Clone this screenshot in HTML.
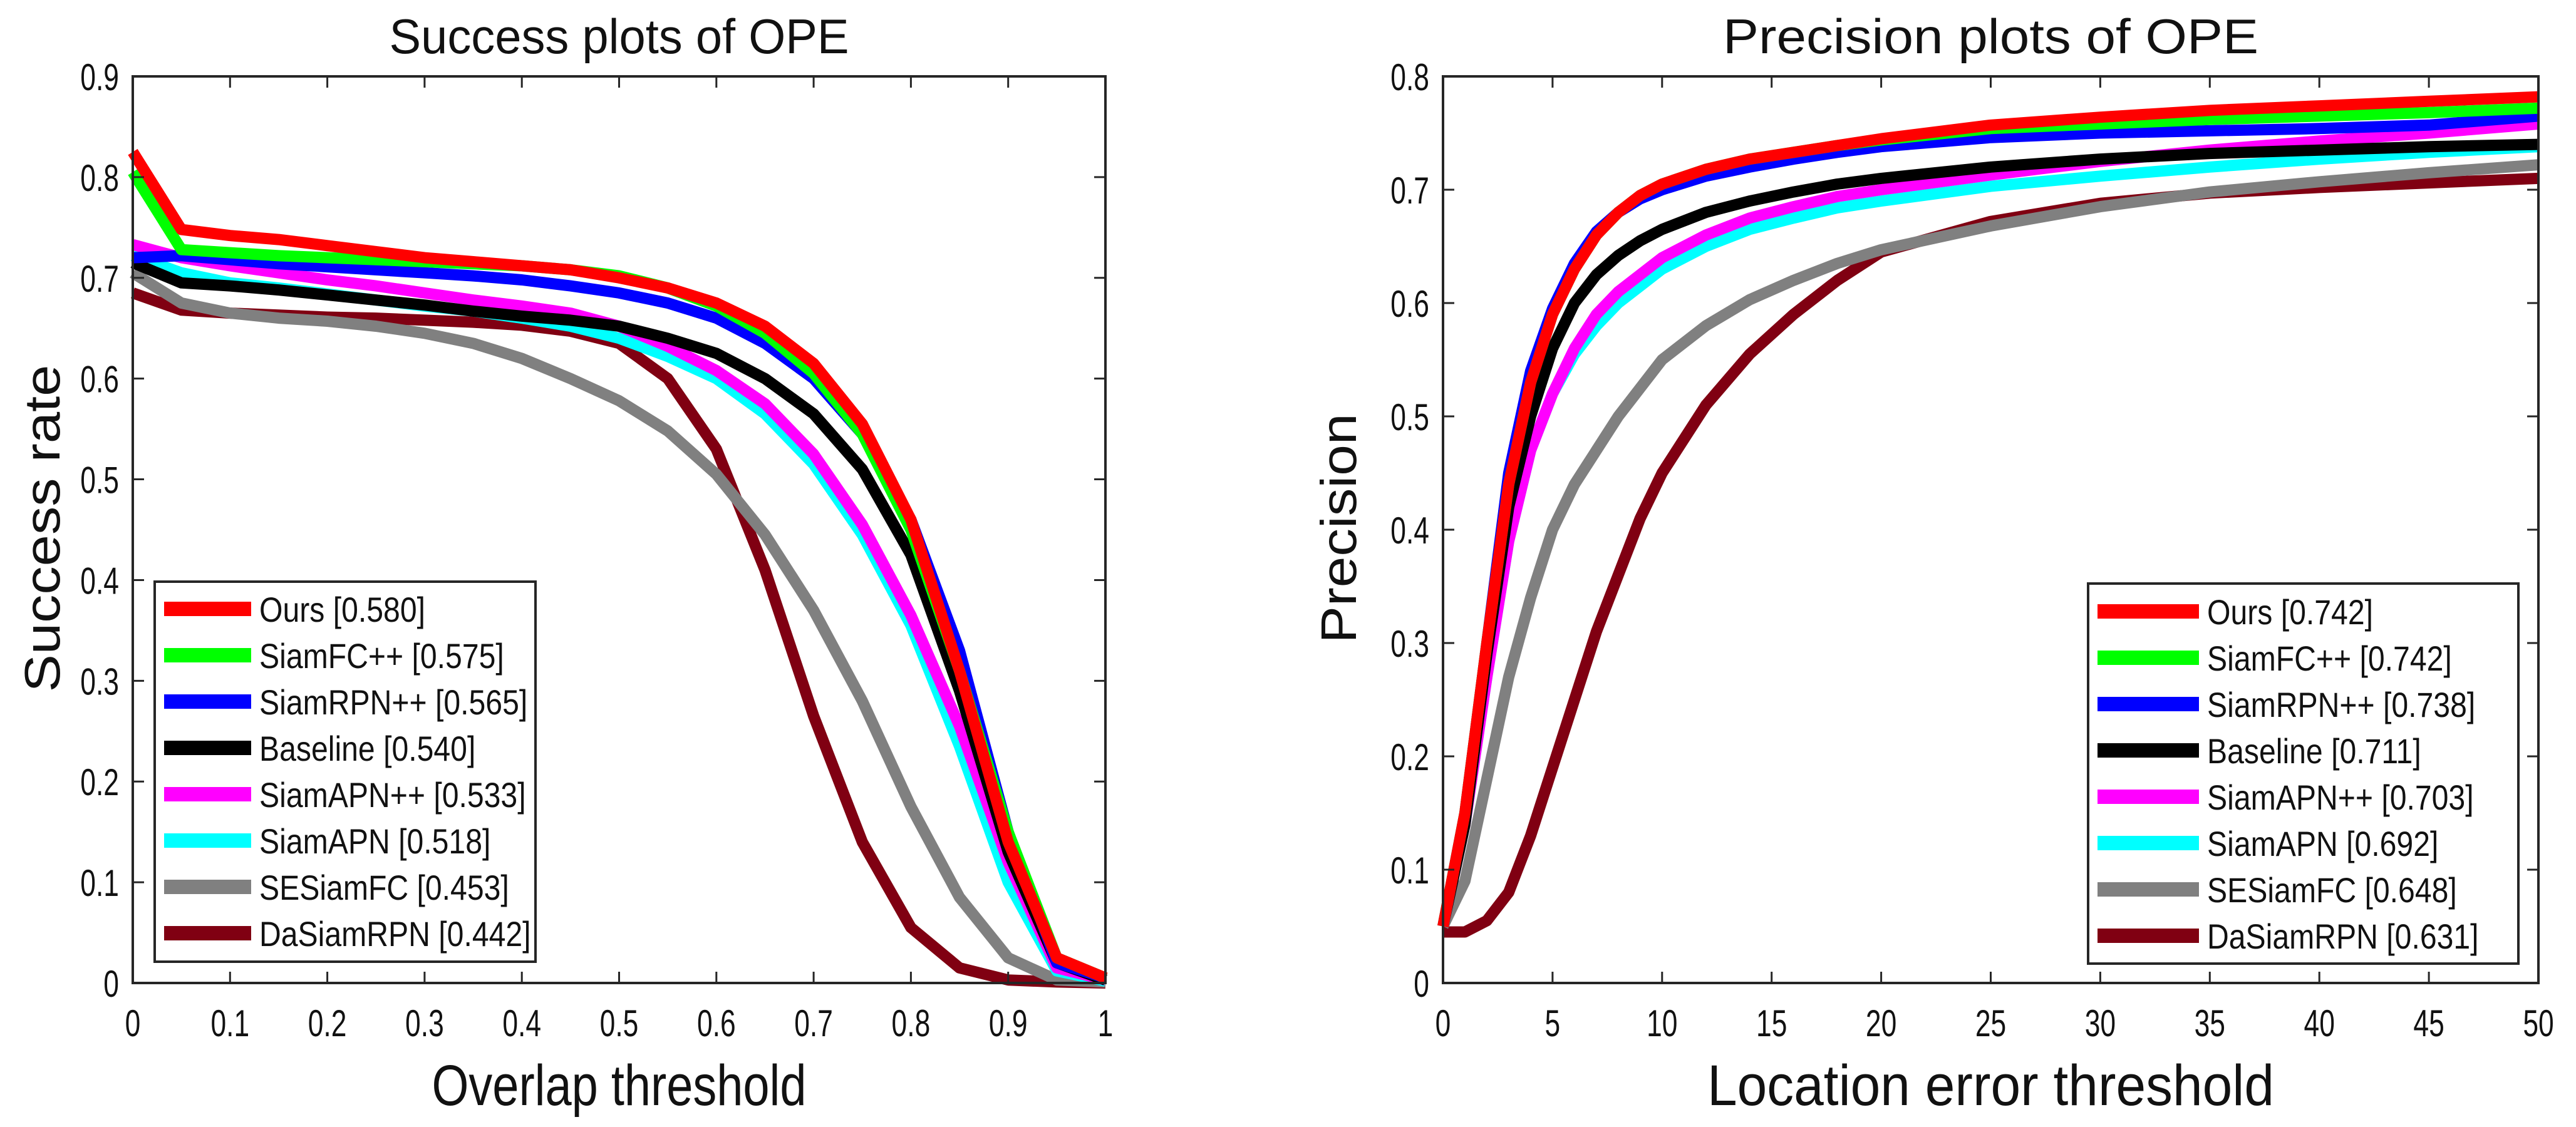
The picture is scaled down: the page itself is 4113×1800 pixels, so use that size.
<!DOCTYPE html>
<html><head><meta charset="utf-8"><style>
html,body{margin:0;padding:0;background:#fff;}
svg{display:block;font-family:"Liberation Sans",Arial,sans-serif;}
</style></head><body>
<svg id="fig" width="4113" height="1800" viewBox="0 0 4113 1800" xmlns="http://www.w3.org/2000/svg"></svg>
<script>
const seriesNames = ["Ours","SiamFC++","SiamRPN++","Baseline","SiamAPN++","SiamAPN","SESiamFC","DaSiamRPN"];
const seriesColors = ["#ff0000","#00ff00","#0000ff","#000000","#ff00ff","#00ffff","#808080","#800012"];
const successScores = ["0.580","0.575","0.565","0.540","0.533","0.518","0.453","0.442"];
const precisionScores = ["0.742","0.742","0.738","0.711","0.703","0.692","0.648","0.631"];

const successX = [0,0.05,0.1,0.15,0.2,0.25,0.3,0.35,0.4,0.45,0.5,0.55,0.6,0.65,0.7,0.75,0.8,0.85,0.9,0.95,1];
const successOurs = [0.825,0.748,0.742,0.738,0.732,0.726,0.72,0.716,0.712,0.708,0.700,0.690,0.675,0.652,0.615,0.555,0.46,0.31,0.14,0.025,0.005];
const successSiamFCpp = [0.805,0.728,0.725,0.722,0.72,0.718,0.716,0.714,0.712,0.708,0.702,0.69,0.672,0.645,0.605,0.545,0.45,0.31,0.15,0.025,0.005];
const successSiamRPNpp = [0.72,0.722,0.718,0.714,0.711,0.708,0.705,0.702,0.698,0.692,0.685,0.675,0.66,0.635,0.6,0.545,0.46,0.33,0.15,0.02,0.005];
const successBaseline = [0.715,0.695,0.692,0.688,0.683,0.678,0.673,0.667,0.662,0.658,0.652,0.64,0.625,0.6,0.565,0.51,0.425,0.29,0.13,0.02,0.003];
const successSiamAPNpp = [0.733,0.72,0.712,0.705,0.698,0.692,0.685,0.678,0.672,0.665,0.652,0.632,0.608,0.575,0.525,0.455,0.365,0.255,0.12,0.015,0.003];
const successSiamAPN = [0.722,0.705,0.695,0.69,0.684,0.678,0.672,0.667,0.66,0.652,0.64,0.622,0.6,0.565,0.515,0.445,0.355,0.235,0.1,0.012,0.002];
const successSESiamFC = [0.705,0.675,0.665,0.66,0.657,0.652,0.645,0.635,0.62,0.6,0.578,0.548,0.505,0.445,0.37,0.28,0.175,0.085,0.025,0.003,0.001];
const successDaSiamRPN = [0.685,0.668,0.665,0.663,0.661,0.66,0.658,0.656,0.653,0.647,0.635,0.6,0.53,0.41,0.265,0.14,0.055,0.015,0.003,0.001,0.0];

const precisionX = [0,1,2,3,4,5,6,7,8,9,10,12,14,16,18,20,25,30,35,40,45,50];
const precisionOurs = [0.05,0.15,0.3,0.44,0.53,0.59,0.63,0.66,0.68,0.695,0.705,0.718,0.727,0.733,0.739,0.745,0.757,0.764,0.77,0.774,0.778,0.782];
const precisionSiamFCpp = [0.05,0.15,0.3,0.44,0.53,0.59,0.63,0.66,0.68,0.695,0.705,0.718,0.727,0.733,0.739,0.744,0.754,0.758,0.762,0.765,0.768,0.772];
const precisionSiamRPNpp = [0.05,0.15,0.3,0.45,0.54,0.595,0.635,0.663,0.68,0.692,0.700,0.712,0.72,0.727,0.733,0.738,0.746,0.75,0.752,0.754,0.757,0.765];
const precisionBaseline = [0.05,0.14,0.29,0.42,0.5,0.56,0.6,0.625,0.642,0.655,0.665,0.68,0.69,0.698,0.705,0.71,0.72,0.727,0.732,0.735,0.738,0.74];
const precisionSiamAPNpp = [0.05,0.14,0.27,0.39,0.47,0.52,0.56,0.59,0.61,0.625,0.64,0.66,0.675,0.685,0.694,0.7,0.713,0.725,0.735,0.743,0.75,0.758];
const precisionSiamAPN = [0.05,0.14,0.27,0.39,0.47,0.52,0.555,0.58,0.6,0.615,0.63,0.65,0.665,0.675,0.684,0.69,0.703,0.712,0.72,0.727,0.733,0.738];
const precisionSESiamFC = [0.05,0.09,0.18,0.27,0.34,0.4,0.44,0.47,0.5,0.525,0.55,0.58,0.603,0.62,0.635,0.647,0.668,0.685,0.698,0.707,0.715,0.722];
const precisionDaSiamRPN = [0.045,0.045,0.055,0.08,0.13,0.19,0.25,0.31,0.36,0.41,0.45,0.51,0.555,0.59,0.62,0.645,0.672,0.688,0.697,0.702,0.706,0.71];

const successXTicks = ["0","0.1","0.2","0.3","0.4","0.5","0.6","0.7","0.8","0.9","1"];
const successYTicks = ["0","0.1","0.2","0.3","0.4","0.5","0.6","0.7","0.8","0.9"];
const precisionXTicks = ["0","5","10","15","20","25","30","35","40","45","50"];
const precisionYTicks = ["0","0.1","0.2","0.3","0.4","0.5","0.6","0.7","0.8"];

const successSeries = [successOurs,successSiamFCpp,successSiamRPNpp,successBaseline,successSiamAPNpp,successSiamAPN,successSESiamFC,successDaSiamRPN];
const precisionSeries = [precisionOurs,precisionSiamFCpp,precisionSiamRPNpp,precisionBaseline,precisionSiamAPNpp,precisionSiamAPN,precisionSESiamFC,precisionDaSiamRPN];

const NS = "http://www.w3.org/2000/svg";
const svg = document.getElementById("fig");
function mk(tag, attrs, parent){
  const e = document.createElementNS(NS, tag);
  for (const k in attrs) e.setAttribute(k, attrs[k]);
  (parent||svg).appendChild(e);
  return e;
}
function txt(parent, x, y, s, size, anchor, sx, len){
  const t = mk("text", {x:0, y:0, "font-size":size, "text-anchor":anchor, fill:"#111",
    transform:"translate("+x+","+y+") scale("+sx+",1)"}, parent);
  if (len) { t.setAttribute("textLength", len); t.setAttribute("lengthAdjust","spacingAndGlyphs"); }
  t.textContent = s;
  return t;
}

function drawPlot(cfg){
  const g = mk("g", {});
  
  
  const L=cfg.left, R=cfg.right, T=122, B=1570;
  const xs = v => L + (v - cfg.xmin)/(cfg.xmax - cfg.xmin)*(R-L);
  const ys = v => B - (v - cfg.ymin)/(cfg.ymax - cfg.ymin)*(B-T);
  mk("rect", {x:L,y:T,width:R-L,height:B-T,fill:"#fff"}, g);
  const sg = mk("g", {}, g);
  
  
  for (let i = cfg.series.length-1; i >= 0; i--){
    const ys_ = cfg.series[i];
    let d = "";
    for (let j=0;j<cfg.x.length;j++) d += (j?"L":"M") + xs(cfg.x[j]).toFixed(1) + "," + ys(ys_[j]).toFixed(1);
    const p = mk("path", {d:d, fill:"none", stroke:seriesColors[i], "stroke-width":18, "stroke-linejoin":"round", "stroke-linecap":"butt"}, sg);
    
    
  }
  const ax = mk("g", {}, g);
  
  
  mk("rect", {x:L,y:T,width:R-L,height:B-T,fill:"none",stroke:"#262626","stroke-width":4}, ax);
  cfg.xticks.forEach((lab,i)=>{
    const v = cfg.xmin + i*(cfg.xmax-cfg.xmin)/(cfg.xticks.length-1);
    const X = xs(v);
    mk("line",{x1:X,y1:B,x2:X,y2:B-18,stroke:"#262626","stroke-width":3},ax);
    mk("line",{x1:X,y1:T,x2:X,y2:T+18,stroke:"#262626","stroke-width":3},ax);
    const t = txt(ax, X, 1655, lab, 60, "middle", 0.74);
    
    
  });
  cfg.yticks.forEach((lab,i)=>{
    const v = cfg.ymin + i*(cfg.ymax-cfg.ymin)/(cfg.yticks.length-1);
    const Y = ys(v);
    mk("line",{x1:L,y1:Y,x2:L+18,y2:Y,stroke:"#262626","stroke-width":3},ax);
    mk("line",{x1:R,y1:Y,x2:R-18,y2:Y,stroke:"#262626","stroke-width":3},ax);
    const t = txt(ax, L-22, Y+22, lab, 60, "end", 0.74);
    
    
  });
  const tt = txt(g, (L+R)/2, 85, cfg.title, 78, "middle", 1, cfg.titleLen);
  
  
  const xl = txt(g, (L+R)/2, 1765, cfg.xlabel, 92, "middle", 1, cfg.xlabelLen);
  
  
  const yl = mk("text", {x:0,y:0,"font-size":80,"text-anchor":"middle",fill:"#111",
    transform:"translate("+cfg.ylabelX+",844) rotate(-90)", textLength:cfg.ylabelLen, lengthAdjust:"spacingAndGlyphs"}, g);
  yl.textContent = cfg.ylabel;
  
  
  const lg = mk("g", {}, g);
  
  
  const lb = cfg.legend;
  mk("rect",{x:lb.x,y:lb.y,width:lb.w,height:lb.h,fill:"#fff",stroke:"#262626","stroke-width":4},lg);
  seriesNames.forEach((n,i)=>{
    const Y = lb.first + i*74;
    const e = mk("g",{},lg);
    
    
    mk("rect",{x:lb.x+15,y:Y-12,width:lb.lineW,height:23,fill:seriesColors[i]},e);
    txt(e, lb.x+15+lb.lineW+13, Y+20, n+" ["+cfg.scores[i]+"]", 56, "start", 0.86);
  });
}

drawPlot({name:"success-plot", left:212, right:1765, xmin:0, xmax:1, ymin:0, ymax:0.9,
  x:successX, series:successSeries, xticks:successXTicks, yticks:successYTicks,
  title:"Success plots of OPE", titleLen:734, xlabel:"Overlap threshold", xlabelLen:598,
  ylabel:"Success rate", ylabelX:95, ylabelLen:523, scores:successScores,
  legend:{x:247,y:929,w:608,h:607,first:973,lineW:139}});
drawPlot({name:"precision-plot", left:2304, right:4053, xmin:0, xmax:50, ymin:0, ymax:0.8,
  x:precisionX, series:precisionSeries, xticks:precisionXTicks, yticks:precisionYTicks,
  title:"Precision plots of OPE", titleLen:855, xlabel:"Location error threshold", xlabelLen:905,
  ylabel:"Precision", ylabelX:2165, ylabelLen:367, scores:precisionScores,
  legend:{x:3334,y:932,w:687,h:607,first:977,lineW:162}});
</script>
</body></html>
